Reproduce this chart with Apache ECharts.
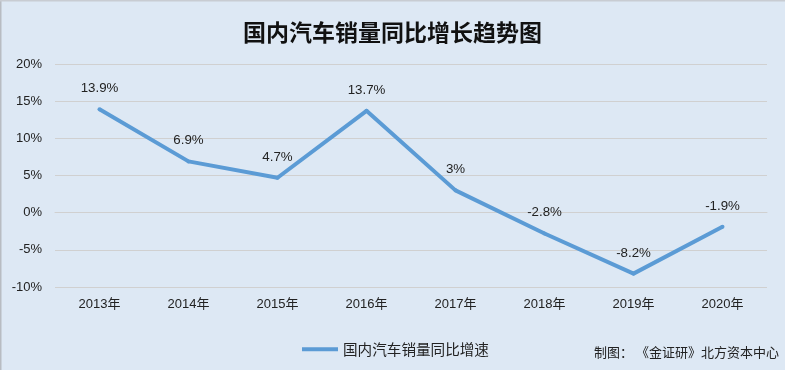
<!DOCTYPE html>
<html><head><meta charset="utf-8">
<script src="https://cdn.jsdelivr.net/npm/echarts@6/dist/echarts.min.js"></script>
<style>html,body{margin:0;padding:0;background:#dde8f4;}#c{width:785px;height:370px;}</style>
</head><body><div id="c"></div>
<script>
const categories = ['2013年','2014年','2015年','2016年','2017年','2018年','2019年','2020年'];
const growth = [13.9, 6.9, 4.7, 13.7, 3, -2.8, -8.2, -1.9];
const seriesName = '国内汽车销量同比增速';
const titleText = '国内汽车销量同比增长趋势图';
const sourceText = '制图： 《金证研》北方资本中心';
const yMin = -10, yMax = 20, yStep = 5;

const chart = echarts.init(document.getElementById('c'), null, {renderer:'canvas'});
const font = '"Liberation Sans","Noto Sans CJK SC",sans-serif';
chart.setOption({
  backgroundColor: '#dde8f4',
  animation: false,
  title: {
    text: titleText, left: 'center', top: 16,
    textStyle: {fontFamily: '"Noto Sans CJK SC",sans-serif', fontSize: 23, fontWeight: 'bold', color: '#111'}
  },
  legend: {
    data: [seriesName], left: 297, top: 337, itemWidth: 36, itemHeight: 4, itemGap: 3,
    icon: 'rect', itemStyle: {color: '#5b9bd5', opacity: 1},
    textStyle: {fontFamily: '"Noto Sans CJK SC",sans-serif', fontSize: 14.6, color: '#222'}
  },
  graphic: [
    {type: 'text', left: 594, top: 346, style: {text: sourceText, fontFamily: '"Noto Sans CJK SC",sans-serif', fontSize: 13, fill: '#222'}},
    {type: 'rect', shape: {x: 0, y: 0, width: 1.5, height: 370}, style: {fill: '#b8bcc2'}},
    {type: 'rect', shape: {x: 0, y: 0, width: 785, height: 1.5}, style: {fill: '#c8ccd2'}}
  ],
  grid: {left: 55, right: 18, top: 64, bottom: 83, containLabel: false},
  xAxis: {
    type: 'category', data: categories, boundaryGap: true,
    axisLine: {show: true, lineStyle: {color: '#d0d0d0'}},
    axisTick: {show: false},
    axisLabel: {margin: 11, fontFamily: font, fontSize: 13, color: '#222'}
  },
  yAxis: {
    type: 'value', min: yMin, max: yMax, interval: yStep,
    axisLine: {show: false}, axisTick: {show: false},
    axisLabel: {margin: 13, fontFamily: font, fontSize: 13, color: '#222', formatter: v => v + '%'},
    splitLine: {lineStyle: {color: '#d0d0d0', width: 1}}
  },
  series: [{
    name: seriesName, type: 'line', data: growth, symbol: 'circle', symbolSize: 4, showSymbol: true,
    lineStyle: {color: '#5b9bd5', width: 4, join: 'round'},
    itemStyle: {color: '#5b9bd5', borderWidth: 0},
    label: {show: true, position: 'top', distance: 12, formatter: p => p.value + '%',
      fontFamily: font, fontSize: 13.3, color: '#222', opacity: 1}
  }]
});
</script></body></html>
